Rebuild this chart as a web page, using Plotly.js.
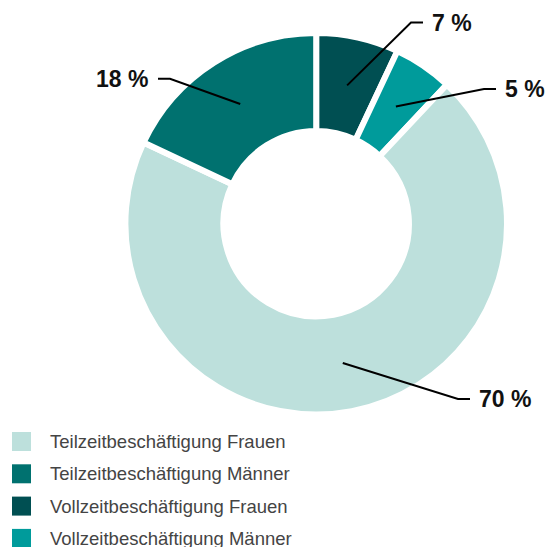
<!DOCTYPE html>
<html><head><meta charset="utf-8">
<script src="https://cdn.plot.ly/plotly-3.0.1.min.js"></script>
<style>html,body{margin:0;padding:0;background:#fff}#chart{width:547px;height:547px}</style>
</head><body><div id="chart"></div>
<script>
// ---- data ----
const sliceLabels = ['Vollzeitbeschäftigung Frauen', 'Vollzeitbeschäftigung Männer', 'Teilzeitbeschäftigung Frauen', 'Teilzeitbeschäftigung Männer'];
const sliceValues = [7, 5, 70, 18];
const sliceColors = ['#004f52', '#009b9b', '#bde0dc', '#00716f'];
const legendOrder = [2, 3, 0, 1];

// ---- layout constants (pixels) ----
const W = 547, H = 547;
const cx = 316.2, cy = 223.7, R = 190.8, hole = 0.486, gap = 6;
const labelX = [432, 505, 479, 148];
const labelY = [22.5, 89, 399, 78.7];
const labelSide = ['r', 'r', 'r', 'l'];
const font = '"Liberation Sans", Arial, Helvetica, sans-serif';

const px = x => x / W;
const py = y => 1 - y / H;

const total = sliceValues.reduce((a, b) => a + b, 0);
const rMid = R * (1 + hole) / 2;
const shapes = [];
const annotations = [];
let cum = 0;
sliceValues.forEach((v, i) => {
  const mid = (cum + v / 2) / total * 2 * Math.PI;
  cum += v;
  const ix = cx + rMid * Math.sin(mid), iy = cy - rMid * Math.cos(mid);
  let endX, elbowX;
  if (labelSide[i] === 'r') { endX = labelX[i] - 9; elbowX = endX - 12; }
  else { endX = labelX[i] + 10; elbowX = endX + 12; }
  const ly = labelY[i];
  shapes.push({
    type: 'path', xref: 'paper', yref: 'paper',
    path: `M${px(ix)},${py(iy)} L${px(elbowX)},${py(ly)} L${px(endX)},${py(ly)}`,
    line: {color: '#000', width: 2}
  });
  annotations.push({
    xref: 'paper', yref: 'paper', showarrow: false,
    x: px(labelSide[i] === 'r' ? labelX[i] - 2 : labelX[i] + 2), y: py(ly),
    xanchor: labelSide[i] === 'r' ? 'left' : 'right', yanchor: 'middle',
    text: '<b>' + v + ' %</b>',
    font: {family: font, size: 23, color: '#111'}
  });
});

// custom legend
legendOrder.forEach((idx, k) => {
  const top = 432 + k * 32.3;
  shapes.push({
    type: 'rect', xref: 'paper', yref: 'paper',
    x0: px(12), x1: px(31), y0: py(top), y1: py(top + 19),
    fillcolor: sliceColors[idx], line: {width: 0}
  });
  annotations.push({
    xref: 'paper', yref: 'paper', showarrow: false,
    x: px(48), y: py(top + 9.5), xanchor: 'left', yanchor: 'middle',
    text: sliceLabels[idx],
    font: {family: font, size: 18.5, color: '#444'}
  });
});

const trace = {
  type: 'pie',
  labels: sliceLabels,
  values: sliceValues,
  sort: false,
  direction: 'clockwise',
  rotation: 0,
  hole: hole,
  textinfo: 'none',
  hoverinfo: 'label+percent',
  marker: {colors: sliceColors, line: {color: '#ffffff', width: gap}},
  domain: {x: [px(cx - R), px(cx + R)], y: [py(cy + R), py(cy - R)]},
  showlegend: false
};

Plotly.newPlot('chart', [trace], {
  width: W, height: H,
  margin: {l: 0, r: 0, t: 0, b: 0},
  paper_bgcolor: '#fff', plot_bgcolor: '#fff',
  showlegend: false,
  shapes: shapes,
  annotations: annotations
}, {displayModeBar: false, staticPlot: true});
</script>
</body></html>
